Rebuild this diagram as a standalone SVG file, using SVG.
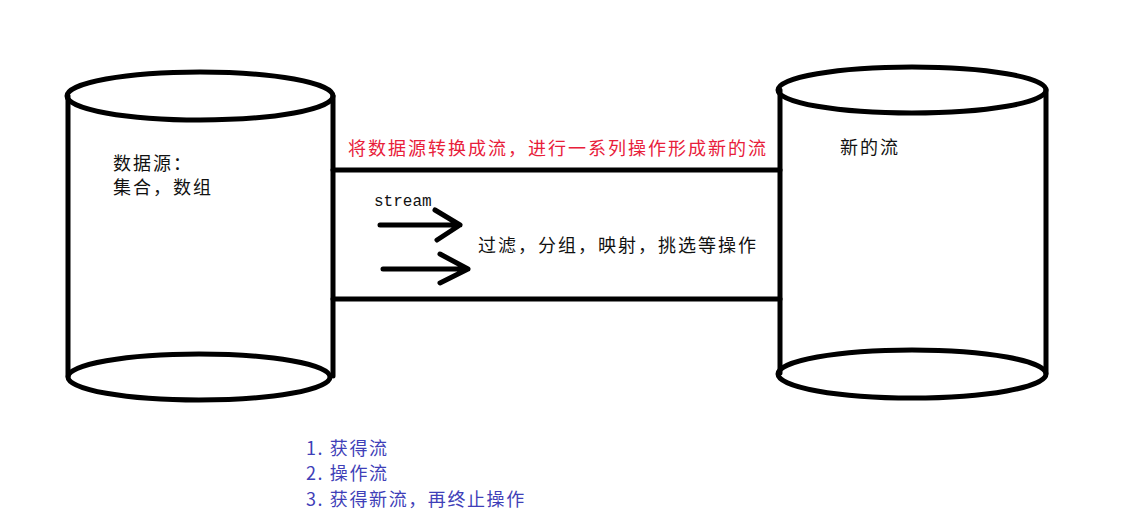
<svg xmlns="http://www.w3.org/2000/svg" width="1123" height="525" viewBox="0 0 1123 525">
<style>
.ln{fill:none;stroke:#000;stroke-width:5;stroke-linecap:round;stroke-linejoin:round}
.t{font-family:"Noto Sans CJK SC","Noto Sans",sans-serif;font-size:18px;letter-spacing:2px;fill:#111}
.red{fill:#e8203a}
.blue{font-family:"Noto Sans CJK SC","Noto Sans",sans-serif;font-size:18px;letter-spacing:1.6px;fill:#3f3fb8}
.mono{font-family:"Liberation Mono",monospace;font-size:16px;fill:#111}
</style>
<rect width="1123" height="525" fill="#fff"/>
<g id="source">
<ellipse class="ln" cx="200" cy="96" rx="133" ry="24"/>
<line class="ln" x1="68" y1="96" x2="68" y2="376"/>
<line class="ln" x1="333" y1="96" x2="333" y2="376"/>
<ellipse class="ln" cx="199" cy="377" rx="131" ry="23"/>
<text class="t" x="113" y="170">数据源：</text>
<text class="t" x="113" y="194">集合，数组</text>
</g>
<g id="target">
<ellipse class="ln" cx="912" cy="90" rx="134" ry="23"/>
<line class="ln" x1="780" y1="90" x2="780" y2="373"/>
<line class="ln" x1="1046" y1="90" x2="1046" y2="373"/>
<ellipse class="ln" cx="912" cy="374" rx="134" ry="24"/>
<text class="t" x="840" y="154">新的流</text>
</g>
<g id="connectors">
<line class="ln" x1="333" y1="170" x2="780" y2="170"/>
<line class="ln" x1="333" y1="299" x2="780" y2="299"/>
<path class="ln" d="M380 225H460M435 210L460 225L437 240"/>
<path class="ln" d="M383 269H468M440 254L468 269L440 283"/>
</g>
<g id="labels">
<text class="t red" x="348" y="155">将数据源转换成流，进行一系列操作形成新的流</text>
<text class="mono" x="374" y="206">stream</text>
<text class="t" x="478" y="252">过滤，分组，映射，挑选等操作</text>
<text class="blue" x="306" y="455">1. 获得流</text>
<text class="blue" x="306" y="480">2. 操作流</text>
<text class="blue" x="306" y="506">3. 获得新流，再终止操作</text>
</g>
</svg>
